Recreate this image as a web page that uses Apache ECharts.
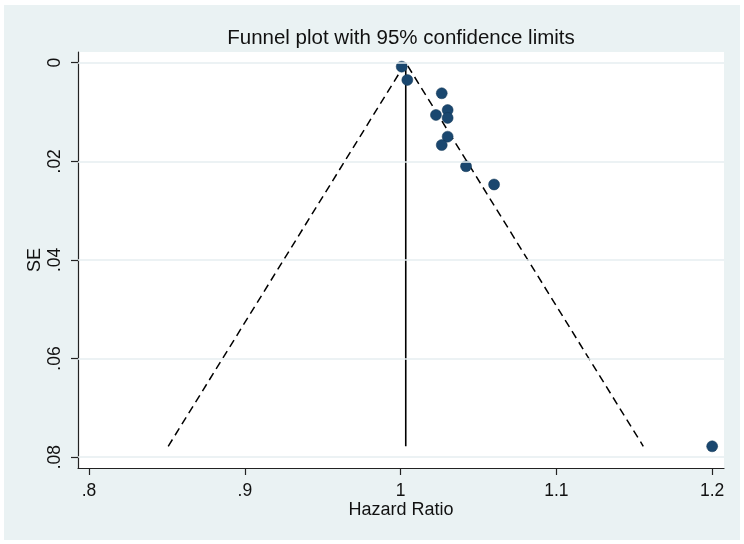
<!DOCTYPE html>
<html><head><meta charset="utf-8">
<script src="https://cdn.jsdelivr.net/npm/echarts@6/dist/echarts.min.js"></script>
<style>html,body{margin:0;padding:0;background:#fff}#c{width:744px;height:544px}</style>
</head><body><div id="c"></div>
<script>
// Study estimates
const hazardRatio = [1.0007, 1.0043, 1.0264, 1.0227, 1.0302, 1.0302, 1.0302, 1.0264, 1.0420, 1.0600, 1.2000];
const standardError = [0.0008, 0.0035, 0.0062, 0.0106, 0.0096, 0.0112, 0.0150, 0.0167, 0.0210, 0.0247, 0.0778];
// Pooled estimate and funnel extent
const pooledHR = 1.0033;
const maxSE = 0.0778;
const zCrit = 1.96;
// Tick values
const xTicks = [0.8, 0.9, 1, 1.1, 1.2];
const yTicks = [0, 0.02, 0.04, 0.06, 0.08];

const fmt = v => { const s = String(+v.toFixed(4)); return s.replace(/^0\./, '.'); };
const points = hazardRatio.map((h, i) => [h, standardError[i]]);
const funnel = [[pooledHR - zCrit * maxSE, maxSE], [pooledHR, 0], [pooledHR + zCrit * maxSE, maxSE]];
const vline = [[pooledHR, 0], [pooledHR, maxSE]];

const chart = echarts.init(document.getElementById('c'));
const FONT = 'Liberation Sans, Arial, sans-serif';
chart.setOption({
  backgroundColor: '#fff',
  animation: false,
  graphic: [
    { type: 'rect', z: -10, silent: true, shape: { x: 4, y: 5, width: 736, height: 535 }, style: { fill: '#eaf2f3' } },
    { type: 'text', z: 10, x: 401, y: 38, style: { text: 'Funnel plot with 95% confidence limits', fontFamily: FONT, fontSize: 20.5, fill: '#111', textAlign: 'center', textVerticalAlign: 'middle' } }
  ],
  grid: { left: 78, right: 20, top: 52, bottom: 76, show: true, backgroundColor: '#fff', borderWidth: 0 },
  xAxis: {
    type: 'value', min: 0.7929, max: 1.2076,
    name: 'Hazard Ratio', nameLocation: 'middle', nameGap: 33, nameMoveOverlap: false,
    nameTextStyle: { fontFamily: FONT, fontSize: 18, color: '#111' },
    axisLine: { show: true, onZero: false, lineStyle: { color: '#222', width: 1.2 } },
    axisTick: { show: true, length: 7, customValues: xTicks, lineStyle: { color: '#222', width: 1.2 } },
    axisLabel: { customValues: xTicks, formatter: fmt, margin: 14, fontFamily: FONT, fontSize: 17.5, color: '#111' },
    splitLine: { show: false }
  },
  yAxis: {
    type: 'value', inverse: true, min: -0.00217, max: 0.0822,
    name: 'SE', nameLocation: 'middle', nameGap: 34, nameRotate: 90, nameMoveOverlap: false,
    nameTextStyle: { fontFamily: FONT, fontSize: 18, color: '#111' },
    axisLine: { show: true, onZero: false, lineStyle: { color: '#222', width: 1.2 } },
    axisTick: { show: true, length: 7, customValues: yTicks, lineStyle: { color: '#222', width: 1.2 } },
    axisLabel: { customValues: yTicks, formatter: fmt, rotate: 90, margin: 14, fontFamily: FONT, fontSize: 17.5, color: '#111' },
    splitLine: { show: false }
  },
  series: [
    { type: 'line', data: [], silent: true,
      markLine: { silent: true, symbol: ['none', 'none'], label: { show: false },
        lineStyle: { color: '#e6eef0', width: 1.5, type: 'solid' },
        data: yTicks.map(v => ({ yAxis: v })) } },
    { type: 'line', data: funnel, showSymbol: false, lineStyle: { color: '#000', width: 1.5, type: [8, 5] }, z: 3 },
    { type: 'line', data: vline, showSymbol: false, lineStyle: { color: '#000', width: 1.6 }, z: 3 },
    { type: 'scatter', data: points, symbolSize: 11, itemStyle: { color: '#1a476f', borderColor: '#123654', borderWidth: 0.5, opacity: 1 }, z: 4 }
  ]
});
</script></body></html>
